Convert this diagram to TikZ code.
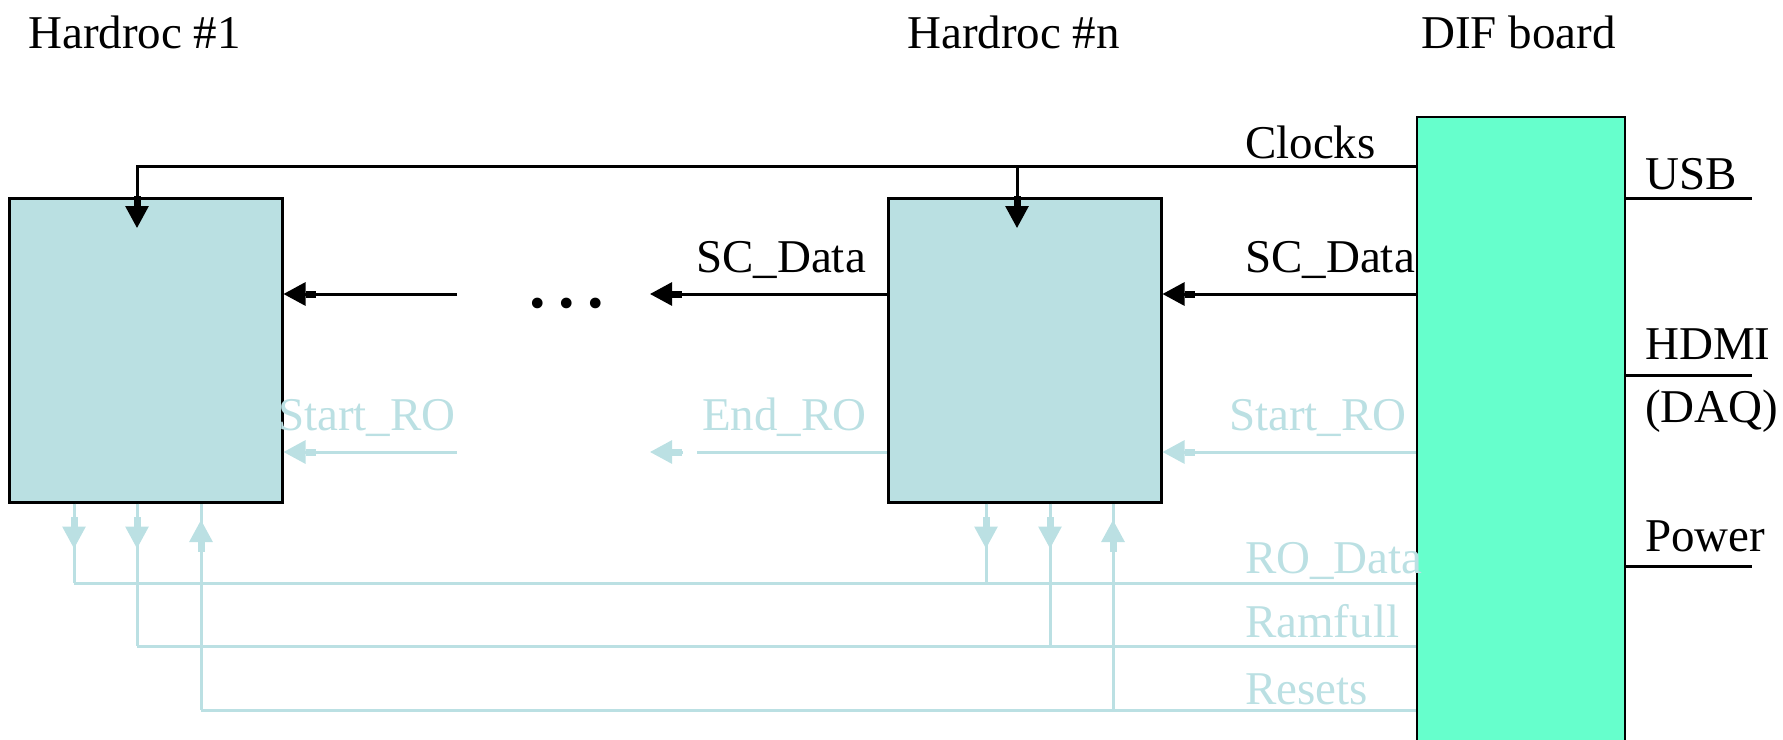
\documentclass[tikz,border=0pt]{standalone}
\usepackage{fontspec}
\setmainfont{Liberation Serif}
\usetikzlibrary{arrows.meta,decorations.markings}
\definecolor{ltc}{RGB}{187,224,227}
\definecolor{boxfill}{RGB}{186,224,226}
\definecolor{difgreen}{RGB}{102,255,204}
\tikzset{ptip/.tip={Rectangle[length=10pt,width=7pt,sep=0pt]Triangle[length=22pt,width=23pt,sep=0pt]}}
\begin{document}
\begin{tikzpicture}[x=1pt,y=-1pt,
  lbl/.style={font=\fontsize{47}{56}\selectfont, inner sep=0pt, anchor=base west},
  ltlbl/.style={lbl, text=ltc},
  hbox/.style={draw=black, line width=3pt, fill=boxfill, minimum width=273pt, minimum height=304pt, inner sep=0pt},
  difbox/.style={draw=black, line width=2.5pt, fill=difgreen, minimum width=208pt, minimum height=643pt, inner sep=0pt},
  blk/.style={draw=black, line width=3pt},
  ltl/.style={draw=ltc, line width=3pt},
  tipa/.style={-{ptip}},
  downmark/.style={postaction={decorate}, decoration={markings, mark=at position 45pt with {\arrow{ptip}}}},
  upmark/.style={postaction={decorate}, decoration={markings, mark=at position 190pt with {\arrow{ptip}}}}
]
\useasboundingbox (0,0) rectangle (1783,739);
\clip (0,0) rectangle (1783,739);

% titles
\node[lbl] (t1) at (28,48) {Hardroc \#1};
\node[lbl] (tn) at (907,48) {Hardroc \#n};
\node[lbl] (td) at (1421,48) {DIF board};

% boxes
\node[hbox] (b1) at (145.5,350) {};
\node[hbox] (bn) at (1024.5,350) {};
\node[difbox] (dif) at (1521,438.5) {};

% helper coordinates
\coordinate (ck1) at (137,228);
\coordinate (ckn) at (1017,228);
\coordinate (sc2) at (650,294);
\coordinate (sc3) at (457,294);
\coordinate (er2) at (697,452);
\coordinate (er2a) at (683,452);
\coordinate (er2b) at (650,452);
\coordinate (sr3) at (457,452);

% clocks
\draw[blk,tipa] (dif.west |- 0,166) -| (ck1);
\draw[blk,tipa] (ckn |- 0,166) -- (ckn);

% SC_Data
\draw[blk,tipa] (dif.west |- 0,294) -- (bn.east |- 0,294);
\draw[blk,tipa] (bn.west |- 0,294) -- (sc2);
\draw[blk,tipa] (sc3) -- (b1.east |- 0,294);

% Start_RO / End_RO
\draw[ltl,tipa] (dif.west |- 0,452) -- (bn.east |- 0,452);
\draw[ltl] (bn.west |- 0,452) -- (er2);
\draw[ltl,tipa] (er2a) -- (er2b);
\draw[ltl,tipa] (sr3) -- (b1.east |- 0,452);

% bottom buses
\draw[ltl] (dif.west |- 0,583) -- (74,583);
\draw[ltl] (dif.west |- 0,646) -- (137,646);
\draw[ltl] (dif.west |- 0,710) -- (201,710);

\draw[ltl,downmark] (b1.south -| 74,0) -- (74,583);
\draw[ltl,downmark] (b1.south -| 137,0) -- (137,646);
\draw[ltl,upmark] (201,710) -- (b1.south -| 201,0);
\draw[ltl,downmark] (bn.south -| 986,0) -- (986,583);
\draw[ltl,downmark] (bn.south -| 1050,0) -- (1050,646);
\draw[ltl,upmark] (1113,710) -- (bn.south -| 1113,0);

% DIF right side connectors
\draw[blk] (dif.east |- 0,198) -- (1752,198);
\draw[blk] (dif.east |- 0,375) -- (1752,375);
\draw[blk] (dif.east |- 0,566) -- (1752,566);

% labels
\node[lbl] (lclk) at (1245,158) {Clocks};
\node[lbl] (lsc1) at (1245,272) {SC\_Data};
\node[lbl] (lsc2) at (696,272) {SC\_Data};
\node[ltlbl] (lsr1) at (1229,430) {Start\_RO};
\node[ltlbl] (ler) at (702,430) {End\_RO};
\node[ltlbl] (lsr2) at (278,430) {Start\_RO};
\node[ltlbl] (lro) at (1245,573) {RO\_Data};
\node[ltlbl] (lram) at (1245,637) {Ramfull};
\node[ltlbl] (lres) at (1245,704) {Resets};
\node[lbl] (lusb) at (1645,189) {USB};
\node[lbl] (lhdmi) at (1645,359) {HDMI};
\node[lbl] (ldaq) at (1645,422) {(DAQ)};
\node[lbl] (lpow) at (1645,551) {Power};
\node[font=\fontsize{90}{90}\selectfont, inner sep=0pt, anchor=base] (dots) at (567,307) {.\kern6.5pt.\kern6.5pt.};
\end{tikzpicture}
\end{document}
